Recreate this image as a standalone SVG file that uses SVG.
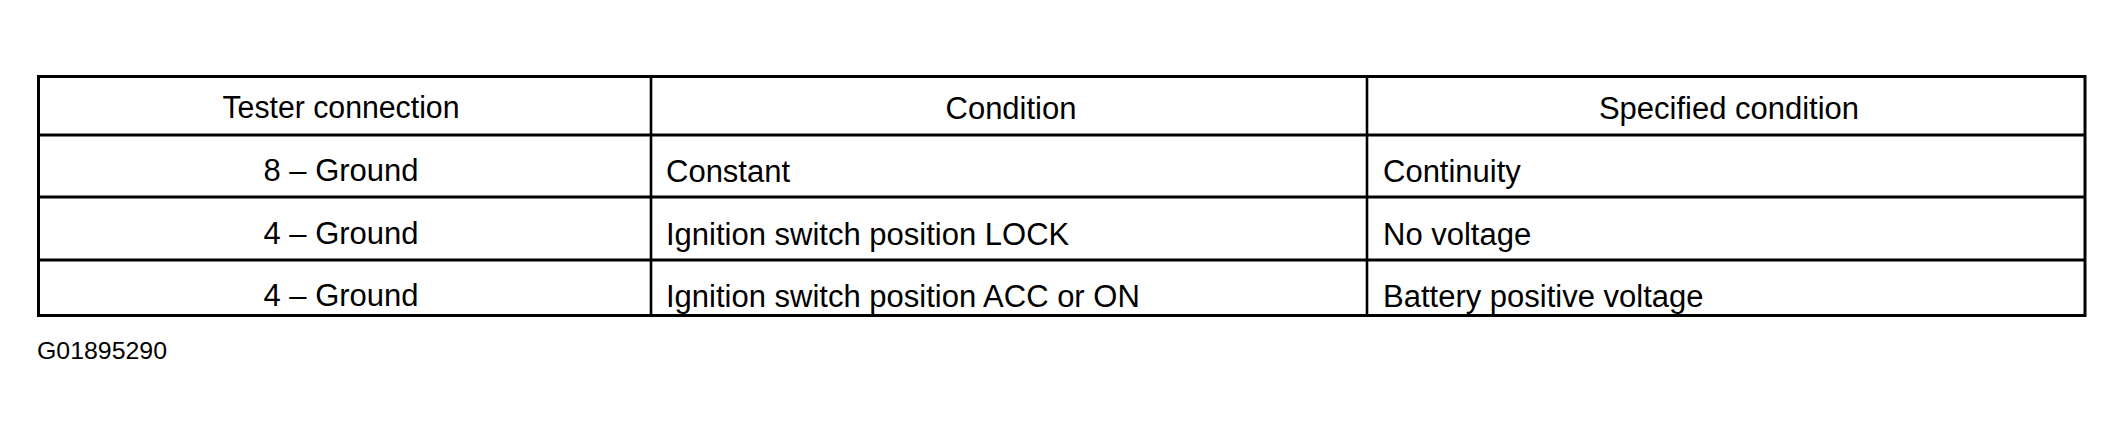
<svg xmlns="http://www.w3.org/2000/svg" width="2124" height="436" viewBox="0 0 2124 436">
<style>
.t{font-family:"Liberation Sans",Arial,Helvetica,sans-serif;font-size:31px;fill:#000}
.c{text-anchor:middle}
.ln{stroke:#000;fill:none}
</style>
<rect width="2124" height="436" fill="#fff"/>
<g id="grid">
<rect class="ln" x="38.5" y="76.5" width="2046.5" height="239" stroke-width="3"/>
<line class="ln" x1="38.5" y1="135" x2="2085" y2="135" stroke-width="3.2"/>
<line class="ln" x1="38.5" y1="197" x2="2085" y2="197" stroke-width="3.2"/>
<line class="ln" x1="38.5" y1="260" x2="2085" y2="260" stroke-width="3.2"/>
<line class="ln" x1="651" y1="76.5" x2="651" y2="315.5" stroke-width="2.6"/>
<line class="ln" x1="1367" y1="76.5" x2="1367" y2="315.5" stroke-width="2.6"/>
</g>
<g id="header">
<text class="t c" x="341" y="118" textLength="237" lengthAdjust="spacingAndGlyphs">Tester connection</text>
<text class="t c" x="1011" y="119">Condition</text>
<text class="t c" x="1729" y="119">Specified condition</text>
</g>
<g id="row1">
<text class="t c" x="341" y="181">8 – Ground</text>
<text class="t" x="666" y="182">Constant</text>
<text class="t" x="1383" y="182">Continuity</text>
</g>
<g id="row2">
<text class="t c" x="341" y="244">4 – Ground</text>
<text class="t" x="666" y="245">Ignition switch position LOCK</text>
<text class="t" x="1383" y="245">No voltage</text>
</g>
<g id="row3">
<text class="t c" x="341" y="306">4 – Ground</text>
<text class="t" x="666" y="307">Ignition switch position ACC or ON</text>
<text class="t" x="1383" y="307">Battery positive voltage</text>
</g>
<g id="code">
<text class="t" x="37" y="359" style="font-size:24px" textLength="130" lengthAdjust="spacingAndGlyphs">G01895290</text>
</g>
</svg>
